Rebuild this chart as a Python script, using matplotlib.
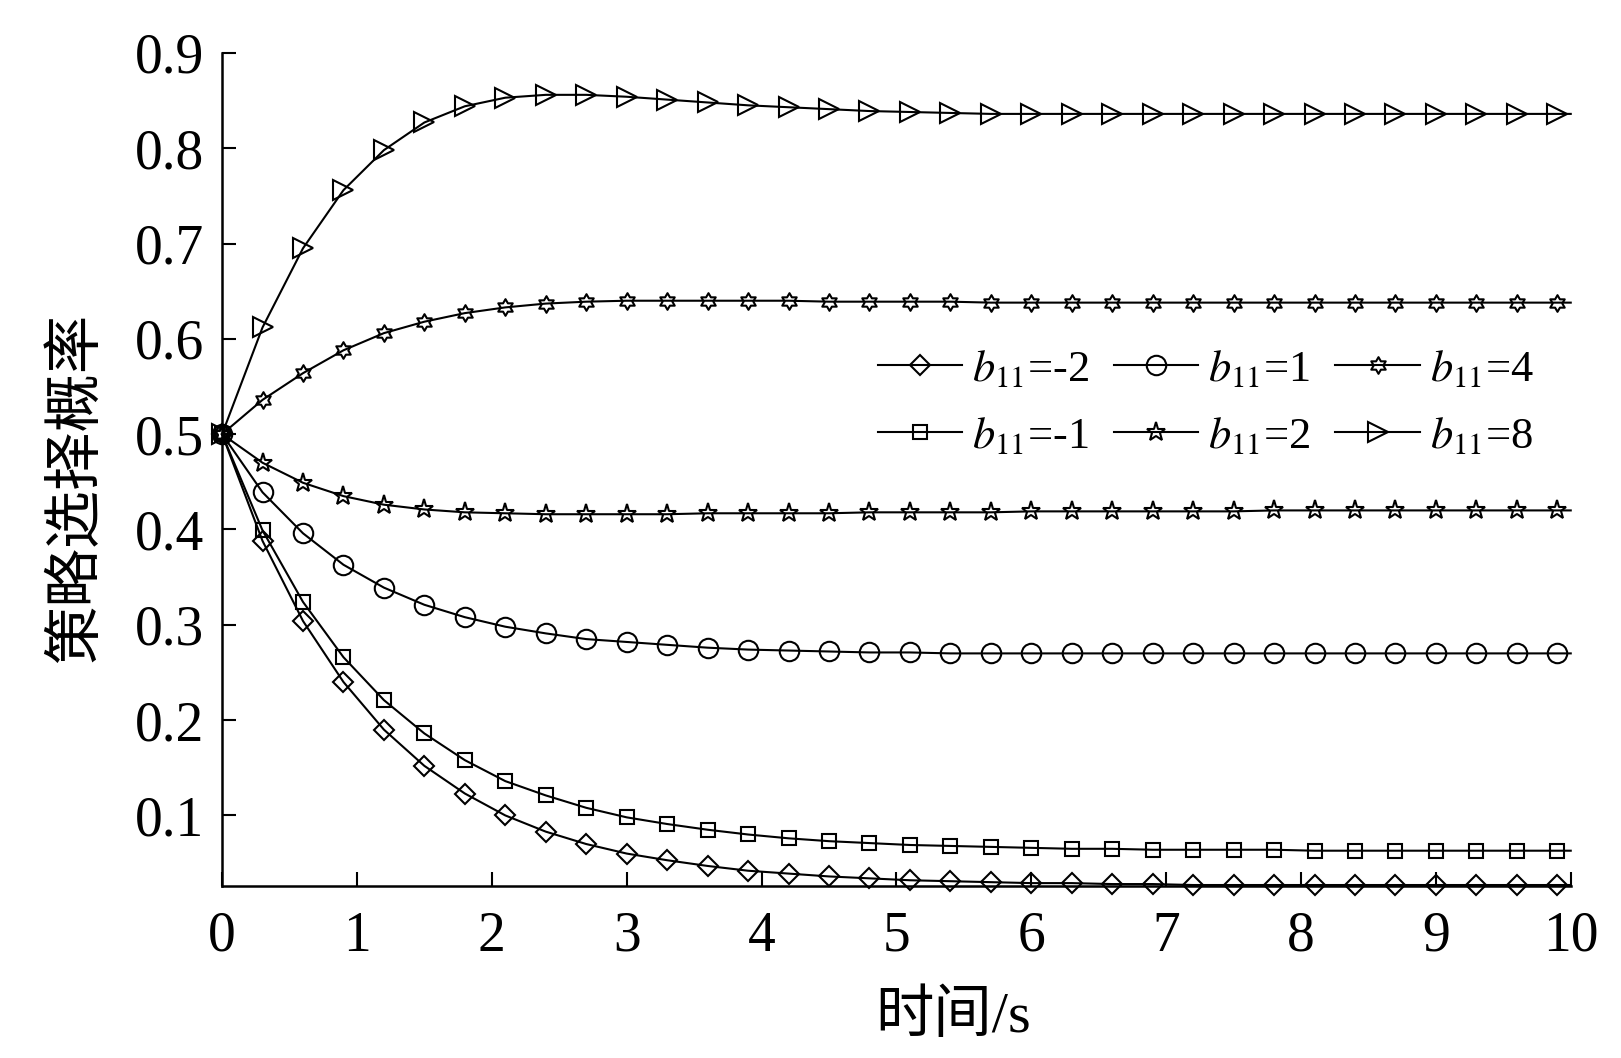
import matplotlib
matplotlib.use('Agg')
import matplotlib.pyplot as plt
import numpy as np
from matplotlib.path import Path

plt.rcParams['font.family'] = ['Liberation Serif', 'Noto Sans CJK SC']
plt.rcParams['mathtext.fontset'] = 'stix'

# time points (markers every 0.3 s, line continues to 10 s)
t = [0.0, 0.3, 0.6, 0.9, 1.2, 1.5, 1.8, 2.1, 2.4, 2.7, 3.0, 3.3, 3.6, 3.9,
     4.2, 4.5, 4.8, 5.1, 5.4, 5.7, 6.0, 6.3, 6.6, 6.9, 7.2, 7.5, 7.8, 8.1,
     8.4, 8.7, 9.0, 9.3, 9.6, 9.9, 10.0]

y_m2 = [0.5, 0.388, 0.304, 0.240, 0.190, 0.152, 0.123, 0.100, 0.083, 0.070,
        0.060, 0.053, 0.047, 0.042, 0.039, 0.036, 0.034, 0.032, 0.031, 0.030,
        0.029, 0.029, 0.028, 0.028, 0.027, 0.027, 0.027, 0.027, 0.027, 0.027,
        0.027, 0.027, 0.027, 0.027, 0.027]
y_m1 = [0.5, 0.399, 0.324, 0.266, 0.221, 0.186, 0.158, 0.136, 0.121, 0.108,
        0.098, 0.091, 0.085, 0.080, 0.076, 0.073, 0.071, 0.069, 0.068, 0.067,
        0.066, 0.065, 0.065, 0.064, 0.064, 0.064, 0.064, 0.063, 0.063, 0.063,
        0.063, 0.063, 0.063, 0.063, 0.063]
y_1 = [0.5, 0.439, 0.396, 0.363, 0.339, 0.321, 0.308, 0.298, 0.291, 0.285,
       0.282, 0.279, 0.276, 0.274, 0.273, 0.272, 0.271, 0.271, 0.270, 0.270,
       0.270, 0.270, 0.270, 0.270, 0.270, 0.270, 0.270, 0.270, 0.270, 0.270,
       0.270, 0.270, 0.270, 0.270, 0.270]
y_2 = [0.5, 0.470, 0.449, 0.435, 0.426, 0.421, 0.418, 0.417, 0.416, 0.416,
       0.416, 0.416, 0.417, 0.417, 0.417, 0.417, 0.418, 0.418, 0.418, 0.418,
       0.419, 0.419, 0.419, 0.419, 0.419, 0.419, 0.420, 0.420, 0.420, 0.420,
       0.420, 0.420, 0.420, 0.420, 0.420]
y_4 = [0.5, 0.536, 0.564, 0.588, 0.606, 0.618, 0.627, 0.633, 0.637, 0.639,
       0.640, 0.640, 0.640, 0.640, 0.640, 0.639, 0.639, 0.639, 0.639, 0.638,
       0.638, 0.638, 0.638, 0.638, 0.638, 0.638, 0.638, 0.638, 0.638, 0.638,
       0.638, 0.638, 0.638, 0.638, 0.638]
y_8 = [0.5, 0.612, 0.695, 0.756, 0.798, 0.827, 0.844, 0.853, 0.856, 0.856,
       0.854, 0.851, 0.848, 0.845, 0.843, 0.841, 0.839, 0.838, 0.837, 0.836,
       0.836, 0.836, 0.836, 0.836, 0.836, 0.836, 0.836, 0.836, 0.836, 0.836,
       0.836, 0.836, 0.836, 0.836, 0.836]

labels = [r'$b_{11}$=-2', r'$b_{11}$=-1', r'$b_{11}$=1',
          r'$b_{11}$=2', r'$b_{11}$=4', r'$b_{11}$=8']
series = [y_m2, y_m1, y_1, y_2, y_4, y_8]
xticks = [0, 1, 2, 3, 4, 5, 6, 7, 8, 9, 10]
yticks = [0.1, 0.2, 0.3, 0.4, 0.5, 0.6, 0.7, 0.8, 0.9]

# six-pointed star marker
ang_o = np.deg2rad(90 + np.arange(6) * 60)
ang_i = ang_o + np.deg2rad(30)
r_i = 1 / np.sqrt(3)
verts = []
for ao, ai in zip(ang_o, ang_i):
    verts.append((np.cos(ao), np.sin(ao)))
    verts.append((r_i * np.cos(ai), r_i * np.sin(ai)))
verts.append(verts[0])
hexstar = Path(verts, closed=True)

styles = [dict(marker='D', ms=10.5), dict(marker='s', ms=10.5),
          dict(marker='o', ms=14), dict(marker='*', ms=14),
          dict(marker=hexstar, ms=12), dict(marker='>', ms=14)]

fig = plt.figure(figsize=(16.21, 10.58), dpi=100)
ax = fig.add_axes([0.137, 0.1626, 0.832, 0.7874])

for y, lab, st in zip(series, labels, styles):
    ax.plot(t, y, color='black', lw=1.5, markerfacecolor='none',
            markeredgecolor='black', markeredgewidth=1.5,
            markevery=slice(0, len(t) - 1), clip_on=False, label=lab, **st)

ax.set_xlim(0, 10)
ax.set_ylim(0.026, 0.9)
ax.set_xticks(xticks)
ax.set_xticklabels([str(v) for v in xticks])
ax.set_yticks(yticks)
ax.set_yticklabels([f'{v:.1f}' for v in yticks])
for s in ['top', 'right']:
    ax.spines[s].set_visible(False)
for s in ['left', 'bottom']:
    ax.spines[s].set_linewidth(1.8)
ax.tick_params(axis='both', direction='in', length=10, width=1.5,
               labelsize=40)
ax.tick_params(axis='y', pad=13)
ax.tick_params(axis='x', pad=18)

ax.set_xlabel('时间/s', fontsize=42)
ax.xaxis.set_label_coords(0.542, -0.125)
ax.set_ylabel('策略选择概率', fontsize=42)
ax.yaxis.set_label_coords(-0.088, 0.478)

leg = ax.legend(ncol=3, frameon=False, fontsize=32, loc='center left',
                bbox_to_anchor=(0.486, 0.580), borderpad=0, borderaxespad=0,
                handlelength=1.9, handletextpad=0.23, columnspacing=0.55,
                labelspacing=0.58)

fig.savefig('out.png', dpi=100)
